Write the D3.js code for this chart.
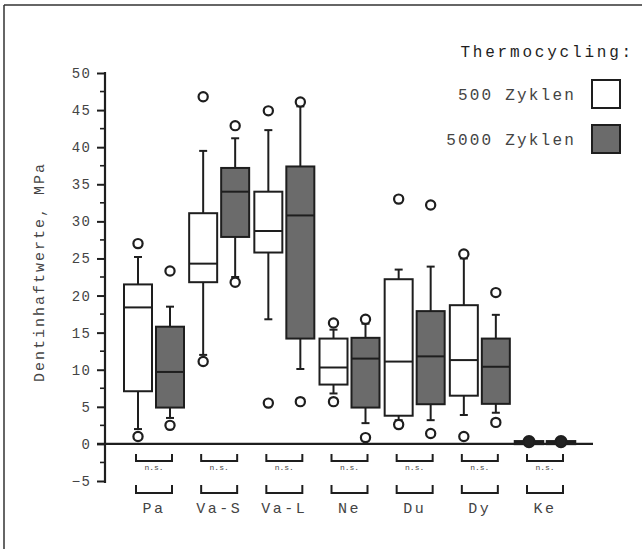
<!DOCTYPE html>
<html><head><meta charset="utf-8">
<script src="https://cdn.jsdelivr.net/npm/d3@7"></script>
<style>body{margin:0;background:#fff}svg{display:block}</style>
</head><body>
<svg id="c" width="642" height="549"></svg>
<script>
const categories = ["Pa","Va-S","Va-L","Ne","Du","Dy","Ke"];
const seriesNames = ["500 Zyklen","5000 Zyklen"];
const yTicks = [-5,0,5,10,15,20,25,30,35,40,45,50];
// per category: [whiskerLow, q1, median, q3, whiskerHigh]
const stats500 = [
  [2.0, 7.1, 18.4, 21.5, 25.2],
  [12.0, 21.8, 24.3, 31.1, 39.5],
  [16.8, 25.8, 28.7, 34.0, 42.3],
  [6.8, 8.0, 10.3, 14.2, 15.4],
  [3.2, 3.8, 11.1, 22.2, 23.5],
  [3.9, 6.5, 11.3, 18.7, 25.0],
  [0.0, 0.0, 0.2, 0.35, 0.35]
];
const outliers500 = [[27.0, 1.0],[46.8, 11.1],[44.9, 5.5],[16.3, 5.7],[33.0, 2.6],[25.6, 1.0],[0.3]];
const stats5000 = [
  [3.5, 4.9, 9.7, 15.8, 18.5],
  [22.5, 27.9, 34.0, 37.2, 41.2],
  [10.1, 14.2, 30.8, 37.4, 45.5],
  [2.8, 4.9, 11.5, 14.3, 16.2],
  [3.2, 5.35, 11.8, 17.9, 23.9],
  [4.2, 5.4, 10.4, 14.2, 17.4],
  [0.0, 0.0, 0.2, 0.35, 0.35]
];
const outliers5000 = [[23.3, 2.5],[42.9, 21.8],[46.1, 5.7],[16.8, 0.85],[32.2, 1.4],[20.4, 2.9],[0.3]];
const filledOutlierCats = ["Ke"];
const sigLabels = ["n.s.","n.s.","n.s.","n.s.","n.s.","n.s.","n.s."];

const svg = d3.select("#c");
const mono = "'Liberation Mono','DejaVu Sans Mono',monospace";
const ink = "#1e1e1e", textCol = "#444";
const fills = ["#ffffff", "#6b6b6b"];

// frame
svg.append("line").attr("x1",4).attr("x2",642).attr("y1",5).attr("y2",5).attr("stroke","#333").attr("stroke-width",1.5);
svg.append("line").attr("x1",4).attr("x2",4).attr("y1",5).attr("y2",549).attr("stroke","#333").attr("stroke-width",1.5);

const y = d3.scaleLinear().domain([-5,50]).range([481,73]);
const x = d3.scalePoint().domain(categories).range([154,545]);
const off = d3.scaleOrdinal().domain(seriesNames).range([-16,16]);
const boxW = 28;
const axisX = 105;

// y axis
const yAxis = d3.axisLeft(y).tickValues(yTicks).tickSize(8).tickPadding(6);
const gy = svg.append("g").attr("transform",`translate(${axisX},0)`).call(yAxis);
gy.select(".domain").remove();
gy.selectAll(".tick line").attr("stroke",ink).attr("stroke-width",2);
gy.selectAll(".tick text").attr("font-family",mono).attr("font-size",14).attr("fill",textCol).attr("letter-spacing",1.2);
const minor = d3.range(-2.5, 50, 5);
svg.append("g").selectAll("line").data(minor).join("line")
  .attr("x1",axisX-5).attr("x2",axisX).attr("y1",d=>y(d)).attr("y2",d=>y(d))
  .attr("stroke",ink).attr("stroke-width",1.6);
svg.append("line").attr("x1",axisX).attr("x2",axisX).attr("y1",y(50)-1).attr("y2",y(-5)+2)
  .attr("stroke",ink).attr("stroke-width",2.2);
// zero line
svg.append("line").attr("x1",97).attr("x2",593).attr("y1",y(0)).attr("y2",y(0))
  .attr("stroke",ink).attr("stroke-width",2.2);

// y title
svg.append("text").attr("transform",`translate(44,272) rotate(-90)`)
  .attr("text-anchor","middle").attr("font-family",mono).attr("font-size",15)
  .attr("letter-spacing",2).attr("fill",textCol).text("Dentinhaftwerte, MPa");

// boxes
const seriesData = [[stats500, outliers500],[stats5000, outliers5000]];
seriesData.forEach(([stats, outs], si) => {
  const g = svg.append("g");
  categories.forEach((cat, ci) => {
    const [wl, q1, md, q3, wh] = stats[ci];
    const cx = x(cat) + off(seriesNames[si]);
    g.append("line").attr("x1",cx).attr("x2",cx).attr("y1",y(wh)).attr("y2",y(q3)).attr("stroke",ink).attr("stroke-width",2);
    g.append("line").attr("x1",cx).attr("x2",cx).attr("y1",y(q1)).attr("y2",y(wl)).attr("stroke",ink).attr("stroke-width",2);
    [wl, wh].forEach(v => g.append("line").attr("x1",cx-4).attr("x2",cx+4).attr("y1",y(v)).attr("y2",y(v)).attr("stroke",ink).attr("stroke-width",2));
    const isFilled = filledOutlierCats.includes(cat);
    g.append("rect").attr("x",cx-boxW/2).attr("width",boxW)
      .attr("y",y(q3)).attr("height",Math.max(y(q1)-y(q3),0.1))
      .attr("fill",isFilled ? "#222" : fills[si]).attr("stroke",ink).attr("stroke-width",isFilled?2.5:2);
    g.append("line").attr("x1",cx-boxW/2).attr("x2",cx+boxW/2).attr("y1",y(md)).attr("y2",y(md)).attr("stroke",ink).attr("stroke-width",2);
    outs[ci].forEach(v => {
      g.append("circle").attr("cx",cx).attr("cy",y(v)).attr("r",isFilled?5.5:4.6)
        .attr("fill",isFilled ? "#222" : "#fff").attr("stroke",ink).attr("stroke-width",2.2);
    });
  });
});

// brackets
const bg = svg.append("g");
categories.forEach((cat, ci) => {
  const cx = x(cat);
  bg.append("path").attr("d",`M${cx-18},454V461H${cx+18}V454`).attr("fill","none").attr("stroke",ink).attr("stroke-width",2);
  bg.append("text").attr("x",cx).attr("y",470).attr("text-anchor","middle").attr("font-family",mono)
    .attr("font-size",8).attr("fill",textCol).text(sigLabels[ci]);
  bg.append("path").attr("d",`M${cx-18},485V493H${cx+18}V485`).attr("fill","none").attr("stroke",ink).attr("stroke-width",2);
  bg.append("text").attr("x",cx).attr("y",513).attr("text-anchor","middle").attr("font-family",mono)
    .attr("font-size",15).attr("letter-spacing",2.5).attr("fill",textCol).text(cat);
});

// legend
svg.append("text").attr("x",634).attr("y",57).attr("text-anchor","end").attr("font-family",mono)
  .attr("font-size",16).attr("letter-spacing",2.8).attr("fill",ink).text("Thermocycling:");
seriesNames.forEach((n, i) => {
  const ty = 80 + i*45;
  svg.append("rect").attr("x",592).attr("y",ty).attr("width",28).attr("height",28)
    .attr("fill",fills[i]).attr("stroke",ink).attr("stroke-width",2);
  svg.append("text").attr("x",576).attr("y",ty+20).attr("text-anchor","end").attr("font-family",mono)
    .attr("font-size",16).attr("letter-spacing",2.2).attr("fill",textCol).text(n);
});
</script>
</body></html>
